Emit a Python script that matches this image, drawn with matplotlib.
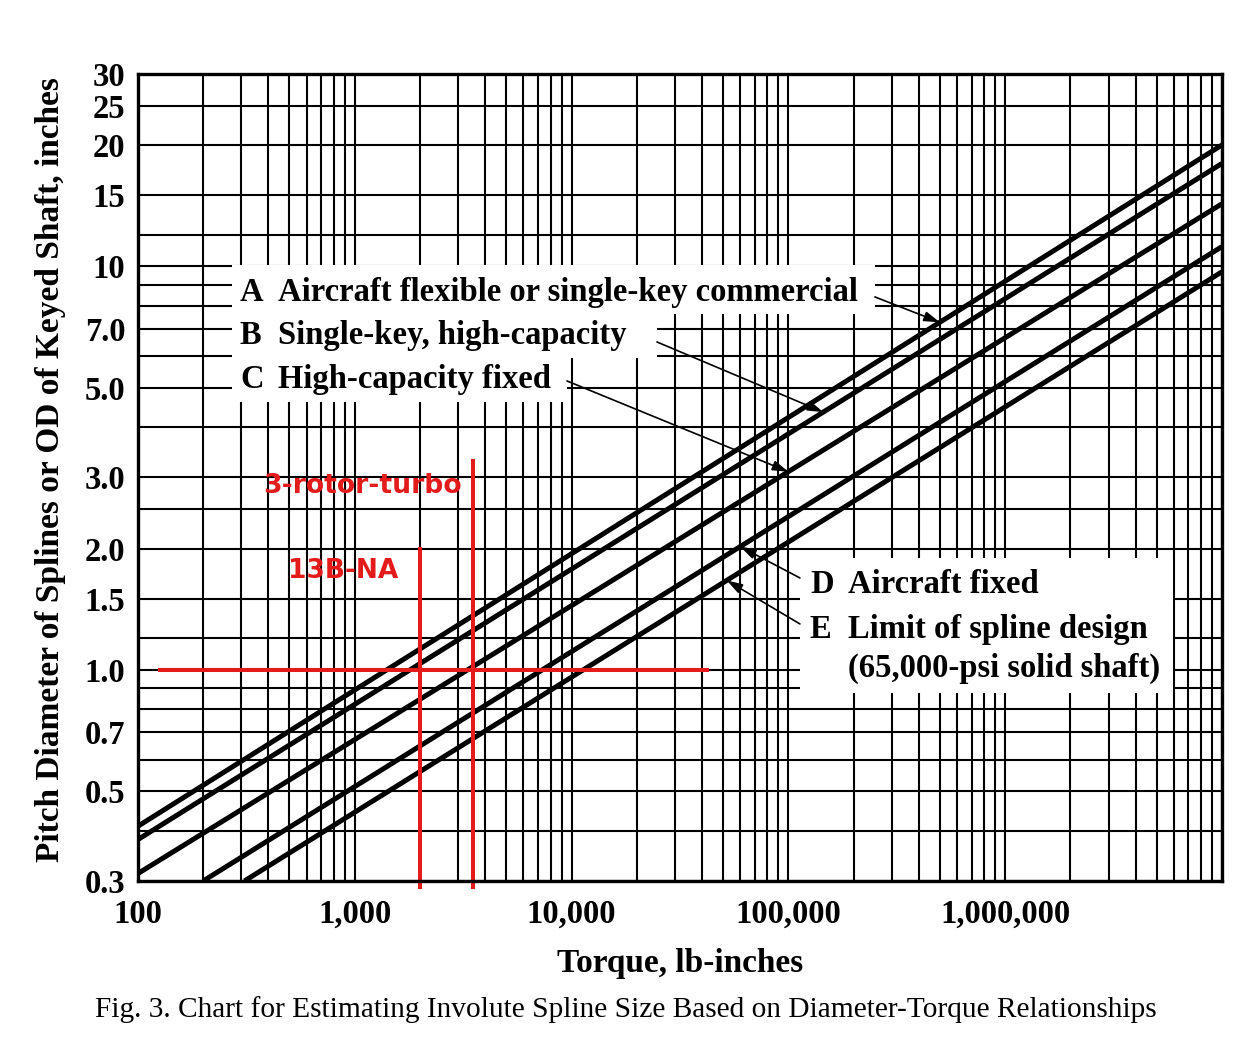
import matplotlib
matplotlib.use("Agg")
import matplotlib.pyplot as plt
import numpy as np
from matplotlib.patches import Rectangle
from matplotlib.ticker import FixedLocator, FixedFormatter, LogLocator, NullFormatter

# Design curves, end points (torque lb-in -> diameter in)
torque_a = [100, 1e7]
dia_a = [0.41, 20.0]
torque_b = [100, 1e7]
dia_b = [0.38, 18.0]
torque_c = [100, 1e7]
dia_c = [0.313, 14.3]
torque_d = [200, 1e7]
dia_d = [0.3, 11.2]
torque_e = [310, 1e7]
dia_e = [0.3, 9.7]

curve_keys = ["A", "B", "C", "D", "E"]
curve_text = [
    "Aircraft flexible or single-key commercial",
    "Single-key, high-capacity",
    "High-capacity fixed",
    "Aircraft fixed",
    "Limit of spline design",
]
curve_note_e = "(65,000-psi solid shaft)"
# torque at which each leader arrow touches its curve
arrow_torque = [5.0e5, 1.45e5, 1.0e5, 6.0e4, 5.2e4]

# red engine marks
ref_dia = 1.0
ref_torque_span = [126, 42000]
na_torque = 2000
na_dia_span = [0.29, 2.0]
turbo_torque = 3500
turbo_dia_span = [0.29, 3.3]

# axis ticks
x_major = [1e2, 1e3, 1e4, 1e5, 1e6, 1e7]
x_labels = ["100", "1,000", "10,000", "100,000", "1,000,000", ""]
y_major = [0.3, 0.5, 0.7, 1.0, 1.5, 2.0, 3.0, 5.0, 7.0, 10, 15, 20, 25, 30]
y_labels = ["0.3", "0.5", "0.7", "1.0", "1.5", "2.0", "3.0", "5.0", "7.0",
            "10", "15", "20", "25", "30"]
y_minor = [0.4, 0.6, 0.8, 0.9, 1.2, 2.5, 4, 6, 8, 9, 12]

RED = "#e31b1b"
SERIF = ["Liberation Serif", "DejaVu Serif"]

plt.rcParams["font.family"] = SERIF
plt.rcParams["font.weight"] = "bold"


def on_curve(t, ts, ds):
    """Diameter on a straight log-log curve at torque t."""
    return 10 ** np.interp(np.log10(t), np.log10(ts), np.log10(ds))


fig = plt.figure(figsize=(12.54, 10.39), dpi=100)
ax = fig.add_axes([0.1100, 0.1521, 0.8644, 0.7767])
ax.set_xscale("log")
ax.set_yscale("log")
ax.set_xlim(1e2, 1e7)
ax.set_ylim(0.3, 30)

# grid
ax.xaxis.set_major_locator(FixedLocator(x_major))
ax.xaxis.set_major_formatter(FixedFormatter(x_labels))
ax.xaxis.set_minor_locator(LogLocator(base=10, subs=np.arange(2, 10)))
ax.xaxis.set_minor_formatter(NullFormatter())
ax.yaxis.set_major_locator(FixedLocator(y_major))
ax.yaxis.set_major_formatter(FixedFormatter(y_labels))
ax.yaxis.set_minor_locator(FixedLocator(y_minor))
ax.yaxis.set_minor_formatter(NullFormatter())
ax.grid(which="both", color="black", lw=1.5)
ax.set_axisbelow(True)
ax.tick_params(which="both", length=0, labelsize=23.5)
ax.tick_params(axis="x", pad=13)
ax.tick_params(axis="y", pad=9)
for lab in ax.get_xticklabels() + ax.get_yticklabels():
    lab.set_fontweight("bold")
for sp in ax.spines.values():
    sp.set_linewidth(2.4)
    sp.set_zorder(6)

# design curves
curves = [(torque_a, dia_a), (torque_b, dia_b), (torque_c, dia_c),
          (torque_d, dia_d), (torque_e, dia_e)]
for ts, ds in curves:
    ax.plot(ts, ds, color="black", lw=3.6, solid_capstyle="butt", zorder=3)

# white label panels that blank the grid
panels = [(0.0867, 0.7026, 0.5932, 0.0607),
          (0.0867, 0.6481, 0.3921, 0.0545),
          (0.0867, 0.5936, 0.3091, 0.0545),
          (0.6107, 0.2330, 0.3441, 0.1672)]
for x0, y0, w, h in panels:
    ax.add_patch(Rectangle((x0, y0), w, h, transform=ax.transAxes,
                           facecolor="white", edgecolor="none", zorder=1))

# labels
key_x = [0.0941, 0.0941, 0.0941, 0.6199, 0.6199]
text_x = [0.1292, 0.1292, 0.1292, 0.6550, 0.6550]
text_y = [0.7187, 0.6654, 0.6109, 0.3569, 0.3011]
start_xy = [(0.6799, 0.7237), (0.4788, 0.6679), (0.3958, 0.6196),
            (0.6107, 0.3755), (0.6107, 0.3185)]
for i, key in enumerate(curve_keys):
    ax.text(key_x[i], text_y[i], key, transform=ax.transAxes, fontsize=23.5,
            fontweight="bold", va="baseline", ha="left", zorder=5)
    ax.text(text_x[i], text_y[i], curve_text[i], transform=ax.transAxes,
            fontsize=23.5, fontweight="bold", va="baseline", ha="left", zorder=5)
    ts, ds = curves[i]
    tip = (arrow_torque[i], on_curve(arrow_torque[i], ts, ds))
    ax.annotate("", xy=tip, xycoords="data", xytext=start_xy[i],
                textcoords="axes fraction", zorder=5,
                arrowprops=dict(arrowstyle="-|>,head_length=0.95,head_width=0.3",
                                mutation_scale=10, lw=1.2, color="black",
                                shrinkA=0, shrinkB=0))
ax.text(text_x[4], 0.2528, curve_note_e, transform=ax.transAxes, fontsize=23.5,
        fontweight="bold", va="baseline", ha="left", zorder=5)

# red engine marks
ax.plot(ref_torque_span, [ref_dia, ref_dia], color=RED, lw=2.9, zorder=4,
        clip_on=False)
ax.plot([na_torque, na_torque], na_dia_span, color=RED, lw=2.9, zorder=4,
        clip_on=False)
ax.plot([turbo_torque, turbo_torque], turbo_dia_span, color=RED, lw=2.9,
        zorder=4, clip_on=False)
ax.text(0.1153, 0.4808, "3-rotor-turbo", transform=ax.transAxes, color=RED,
        family=["DejaVu Sans"], fontweight="bold", fontsize=19.2,
        va="baseline", ha="left", zorder=5)
ax.text(0.1384, 0.3755, "13B-NA", transform=ax.transAxes, color=RED,
        family=["DejaVu Sans"], fontweight="bold", fontsize=19,
        va="baseline", ha="left", zorder=5)

# axis titles
ax.set_xlabel("Torque, lb-inches", fontsize=24, fontweight="bold",
              va="baseline")
ax.xaxis.set_label_coords(0.5, -0.1128)
ax.set_ylabel("Pitch Diameter of Splines or OD of Keyed Shaft, inches",
              fontsize=24, fontweight="bold", va="center")
ax.yaxis.set_label_coords(-0.081, 0.51)

fig.text(0.4992, 0.0212,
         "Fig. 3. Chart for Estimating Involute Spline Size Based on "
         "Diameter-Torque Relationships",
         fontsize=21.2, fontweight="normal", ha="center", va="baseline")

fig.savefig("out.png", dpi=100, facecolor="white")
